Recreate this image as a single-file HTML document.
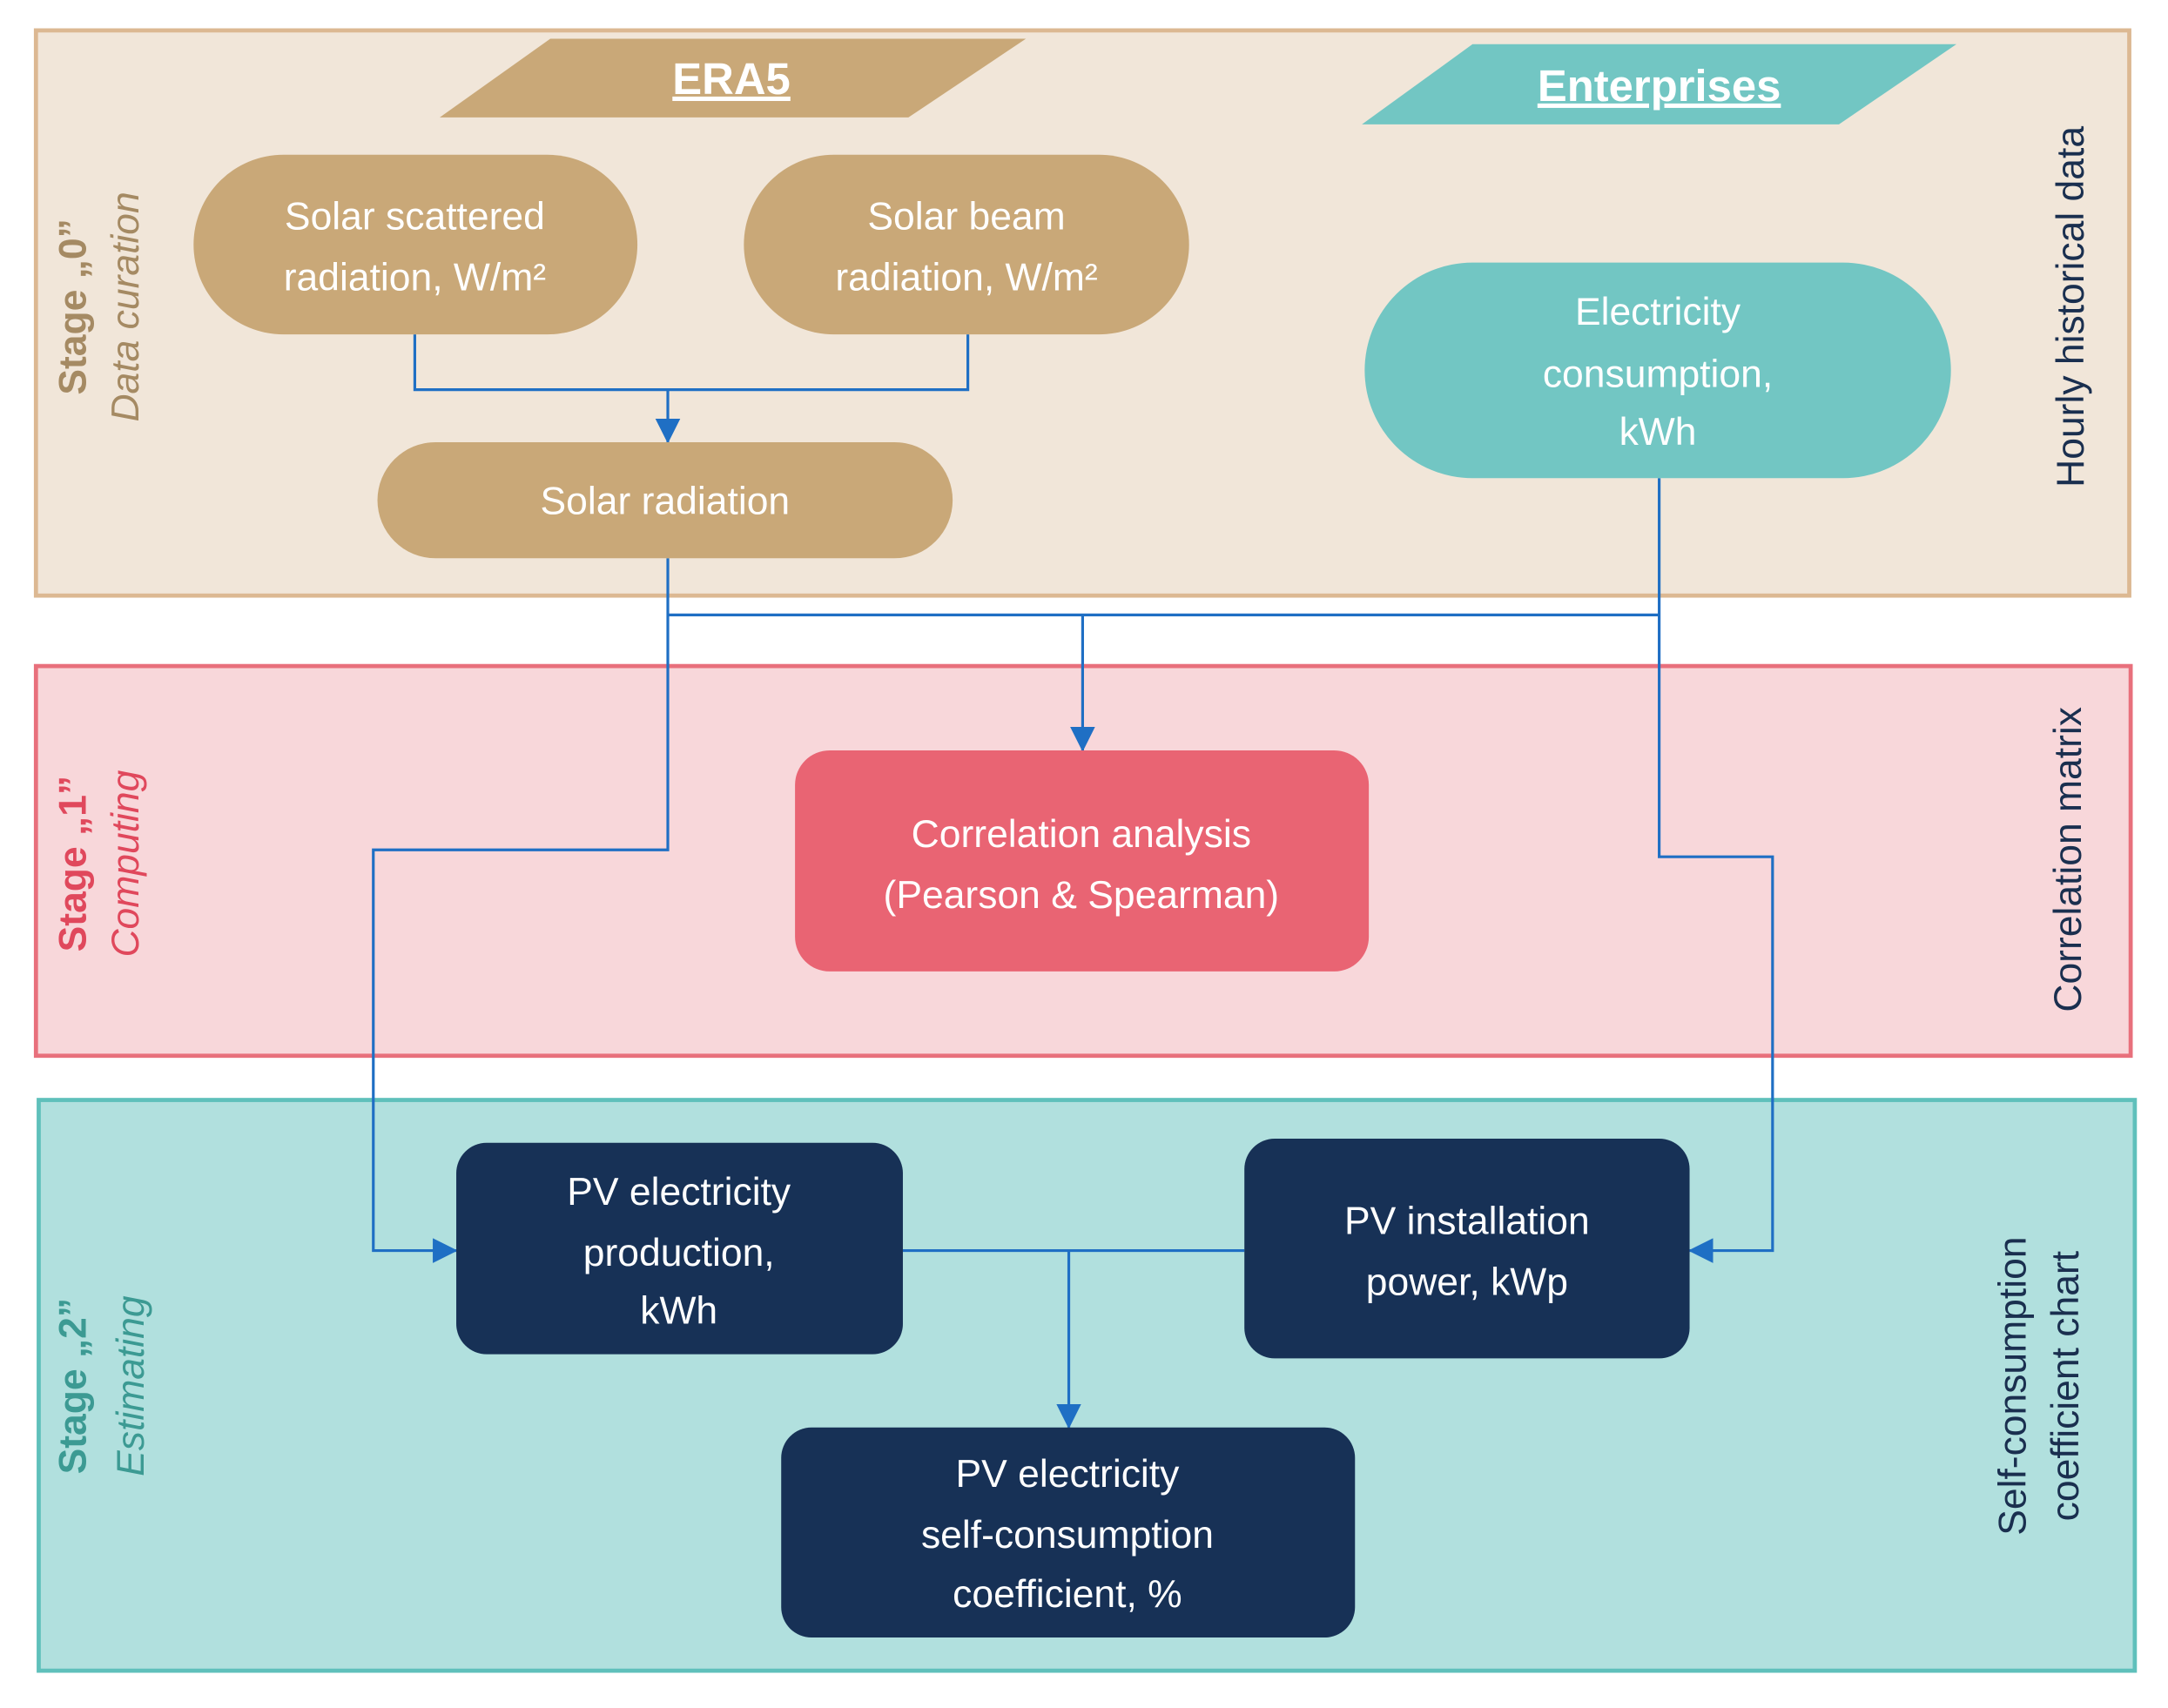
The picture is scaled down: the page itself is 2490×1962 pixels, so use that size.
<!DOCTYPE html>
<html><head><meta charset="utf-8"><style>
html,body{margin:0;padding:0;background:#fff;}
svg{display:block;}
text{font-family:"Liberation Sans",sans-serif;}
</style></head><body>
<svg width="2490" height="1962" viewBox="0 0 1568 1236" preserveAspectRatio="none" xmlns="http://www.w3.org/2000/svg">
<defs>
<marker id="a" markerWidth="10" markerHeight="10" refX="9" refY="5" orient="auto" markerUnits="userSpaceOnUse"><path d="M0,0 L10,5 L0,10 z" fill="#1f6fc4"/></marker>
<marker id="b" markerWidth="18" markerHeight="18" refX="17" refY="9" orient="auto" markerUnits="userSpaceOnUse"><path d="M0,0 L18,9 L0,18 z" fill="#1f6fc4"/></marker>
</defs>
<rect width="1568" height="1236" fill="#fff"/>
<!-- panels -->
<rect x="26" y="22" width="1514" height="409" fill="#f1e6d9" stroke="#dcb892" stroke-width="3"/>
<rect x="26" y="482" width="1515" height="282" fill="#f8d7da" stroke="#e8707c" stroke-width="3"/>
<rect x="28" y="796" width="1516" height="413" fill="#b1e0de" stroke="#5fc0bb" stroke-width="3"/>
<!-- headers -->
<polygon points="318,85 398,28 742,28 657,85" fill="#c9a878"/>
<text x="529" y="68" text-anchor="middle" font-size="32" font-weight="bold" fill="#fff" text-decoration="underline">ERA5</text>
<polygon points="985,90 1065,32 1415,32 1330,90" fill="#72c6c3"/>
<text x="1200" y="73" text-anchor="middle" font-size="32" font-weight="bold" fill="#fff" text-decoration="underline">Enterprises</text>
<!-- connectors -->
<g stroke="#1f6fc4" stroke-width="2" fill="none">
<polyline points="300,242 300,282 700,282 700,242"/>
<line x1="483" y1="282" x2="483" y2="320" marker-end="url(#b)"/>
<polyline points="483,404 483,615 270,615 270,905 330,905" marker-end="url(#b)"/>
<line x1="483" y1="445" x2="1200" y2="445"/>
<polyline points="1200,346 1200,620 1282,620 1282,905 1222,905" marker-end="url(#b)"/>
<line x1="783" y1="445" x2="783" y2="543" marker-end="url(#b)"/>
<line x1="653" y1="905" x2="900" y2="905"/>
<line x1="773" y1="905" x2="773" y2="1033" marker-end="url(#b)"/>
</g>
<!-- nodes -->
<g font-size="28" fill="#fff" text-anchor="middle">
<rect x="140" y="112" width="321" height="130" rx="65" fill="#c9a878"/>
<text x="300" y="166">Solar  scattered</text><text x="300" y="210">radiation, W/m²</text>
<rect x="538" y="112" width="322" height="130" rx="65" fill="#c9a878"/>
<text x="699" y="166">Solar  beam</text><text x="699" y="210">radiation, W/m²</text>
<rect x="273" y="320" width="416" height="84" rx="42" fill="#c9a878"/>
<text x="481" y="372">Solar radiation</text>
<rect x="987" y="190" width="424" height="156" rx="78" fill="#72c6c3"/>
<text x="1199" y="235">Electricity</text><text x="1199" y="280">consumption,</text><text x="1199" y="322">kWh</text>
<rect x="575" y="543" width="415" height="160" rx="25" fill="#e96473"/>
<text x="782" y="613">Correlation analysis</text><text x="782" y="657">(Pearson &amp; Spearman)</text>
<rect x="330" y="827" width="323" height="153" rx="22" fill="#173156"/>
<text x="491" y="872">PV electricity</text><text x="491" y="916">production,</text><text x="491" y="958">kWh</text>
<rect x="900" y="824" width="322" height="159" rx="22" fill="#173156"/>
<text x="1061" y="893">PV installation</text><text x="1061" y="937">power, kWp</text>
<rect x="565" y="1033" width="415" height="152" rx="22" fill="#173156"/>
<text x="772" y="1076">PV electricity</text><text x="772" y="1120">self-consumption</text><text x="772" y="1163">coefficient, %</text>
</g>
<!-- side labels -->
<g font-size="28" text-anchor="middle">
<text transform="translate(62,222) rotate(-90)" font-weight="bold" fill="#a58a63">Stage „0”</text>
<text transform="translate(100,222) rotate(-90)" font-style="italic" fill="#a58a63">Data curation</text>
<text transform="translate(62,625) rotate(-90)" font-weight="bold" fill="#e0485c">Stage „1”</text>
<text transform="translate(100,625) rotate(-90)" font-style="italic" fill="#e0485c">Computing</text>
<text transform="translate(62,1003) rotate(-90)" font-weight="bold" fill="#3c9a93">Stage „2”</text>
<text transform="translate(104,1003) rotate(-90)" font-style="italic" fill="#3c9a93">Estimating</text>
<text transform="translate(1507,222) rotate(-90)" fill="#1a2f4f">Hourly historical data</text>
<text transform="translate(1505,622) rotate(-90)" fill="#1a2f4f">Correlation matrix</text>
<text transform="translate(1465,1003) rotate(-90)" fill="#1a2f4f">Self-consumption</text>
<text transform="translate(1503,1003) rotate(-90)" fill="#1a2f4f">coefficient chart</text>
</g>
</svg>
</body></html>
